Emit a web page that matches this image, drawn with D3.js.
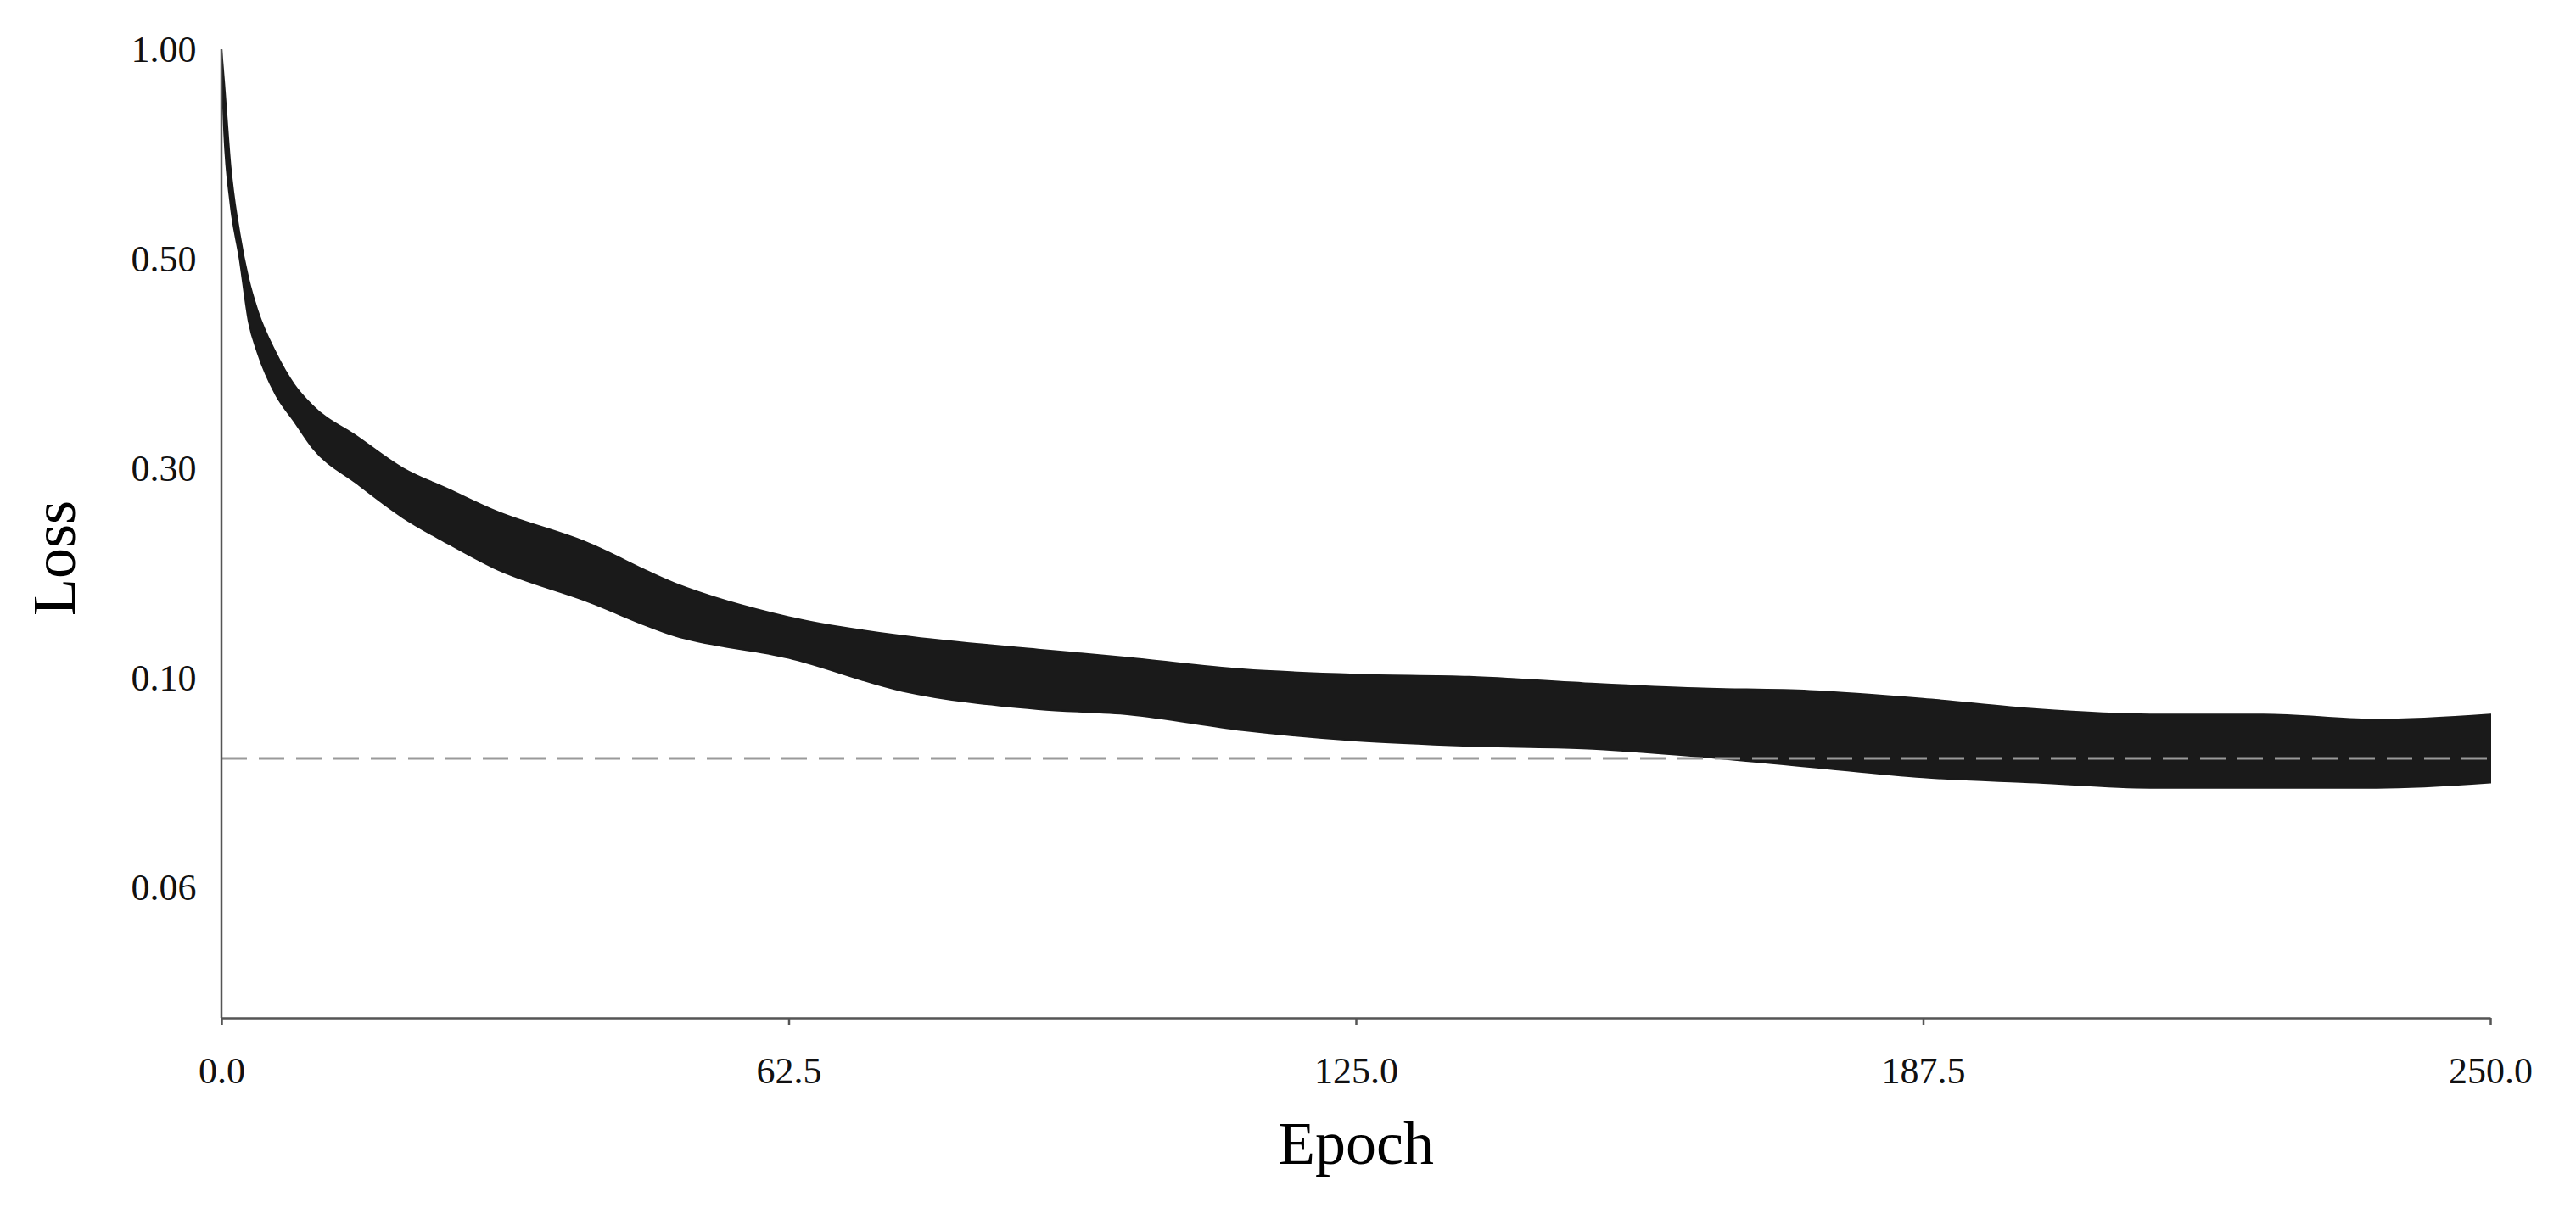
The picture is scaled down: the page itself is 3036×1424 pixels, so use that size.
<!DOCTYPE html>
<html><head><meta charset="utf-8">
<script src="https://cdn.jsdelivr.net/npm/d3@7"></script>
<style>body{margin:0;background:#fff}</style>
</head><body>
<svg id="chart" width="3036" height="1424"></svg>
<script>
// envelope of the noisy loss trace
var epochs = [0, 0.3, 1, 2, 3, 4, 6, 8, 10, 15, 20, 25, 30, 40, 50, 62.5, 75, 90, 100, 112.5, 125, 137.5, 150, 162.5, 175, 187.5, 200, 212.5, 225, 237.5, 250];
var upper  = [1.0, 0.92, 0.72, 0.56, 0.48, 0.45, 0.41, 0.38, 0.36, 0.33, 0.30, 0.28, 0.26, 0.23, 0.19, 0.158, 0.14, 0.127, 0.119, 0.108, 0.103, 0.101, 0.099, 0.098, 0.0975, 0.096, 0.094, 0.093, 0.093, 0.092, 0.093];
var lower  = [0.96, 0.80, 0.63, 0.50, 0.44, 0.41, 0.37, 0.345, 0.32, 0.285, 0.253, 0.228, 0.205, 0.174, 0.14, 0.119, 0.0975, 0.094, 0.093, 0.090, 0.088, 0.087, 0.0865, 0.085, 0.083, 0.081, 0.080, 0.079, 0.079, 0.079, 0.080];
var yTicks = [1.00, 0.50, 0.30, 0.10, 0.06];
var xTicks = [0, 62.5, 125, 187.5, 250];
var baseline = 0.0846;

var mLeft = 261, mRight = 2935, mTop = 58, mBottom = 1200, step = 247;
var svg = d3.select("#chart");
var font = "Liberation Serif, Times New Roman, serif";

var x = d3.scaleLinear().domain([0, 250]).range([mLeft, mRight]);
// piecewise axis: ticks equally spaced
var y = d3.scaleLinear()
  .domain([0.035, 0.06, 0.1, 0.3, 0.5, 1.0])
  .range([mBottom, mTop + 4 * step, mTop + 3 * step, mTop + 2 * step, mTop + step, mTop]);

var band = epochs.map(function(e, i) { return {e: e, hi: upper[i], lo: lower[i]}; });
svg.append("path")
  .datum(band)
  .attr("d", d3.area().x(d => x(d.e)).y0(d => y(d.lo)).y1(d => y(d.hi)).curve(d3.curveMonotoneX))
  .attr("fill", "#1a1a1a").attr("stroke", "#1a1a1a").attr("stroke-width", 2);

svg.append("line")
  .attr("x1", mLeft).attr("x2", mRight)
  .attr("y1", y(baseline)).attr("y2", y(baseline))
  .attr("stroke", "#9a9a9a").attr("stroke-width", 3).attr("stroke-dasharray", "30,14");

var gx = svg.append("g").attr("transform", "translate(0," + mBottom + ")")
  .call(d3.axisBottom(x).tickValues(xTicks).tickFormat(d3.format(".1f")).tickSize(8).tickSizeOuter(0));
var gy = svg.append("g").attr("transform", "translate(" + mLeft + ",0)")
  .call(d3.axisLeft(y).tickValues(yTicks).tickFormat(d3.format(".2f")).tickSize(0).tickSizeOuter(0));
gy.select(".domain").attr("d", "M0," + mTop + "V" + mBottom);
[gx, gy].forEach(function(g) {
  g.selectAll(".domain, .tick line").attr("stroke", "#555").attr("stroke-width", 2.5);
  g.selectAll("text").attr("font-family", font).attr("font-size", 44).attr("fill", "#111");
});
gx.selectAll("text").attr("dy", "1.5em");
gy.selectAll("text").attr("dx", "-0.6em");

svg.append("text").attr("x", (mLeft + mRight) / 2).attr("y", 1372)
  .attr("text-anchor", "middle").attr("font-family", font).attr("font-size", 72).text("Epoch");
svg.append("text").attr("transform", "translate(88," + 658 + ") rotate(-90)")
  .attr("text-anchor", "middle").attr("font-family", font).attr("font-size", 72).text("Loss");
</script>
</body></html>
